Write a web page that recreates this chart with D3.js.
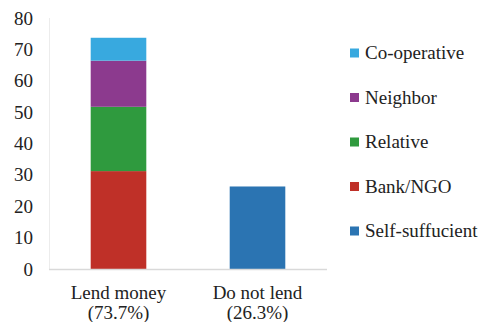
<!DOCTYPE html>
<html>
<head>
<meta charset="utf-8">
<script src="https://cdn.jsdelivr.net/npm/d3@7"></script>
</head>
<body style="margin:0">
<svg id="chart" width="482" height="322"></svg>
<script>
// Source of loans (percent of households)
const categories = ["Lend money", "Do not lend"];
const categorySubLabels = ["(73.7%)", "(26.3%)"];
const seriesNames = ["Bank/NGO", "Relative", "Neighbor", "Co-operative", "Self-suffucient"];
const bankNgo        = [31.2, 0];
const relative       = [20.5, 0];
const neighbor       = [14.7, 0];
const cooperative    = [7.3, 0];
const selfSufficient = [0, 26.3];
const yTicks = [0, 10, 20, 30, 40, 50, 60, 70, 80];

const FONT = "Liberation Serif";
const FS = 19;

const colors = {
  "Bank/NGO": "#bf3028",
  "Relative": "#2f9a3e",
  "Neighbor": "#8c3a8e",
  "Co-operative": "#38a9df",
  "Self-suffucient": "#2b74b2"
};

const table = categories.map((c, i) => ({
  category: c,
  "Bank/NGO": bankNgo[i],
  "Relative": relative[i],
  "Neighbor": neighbor[i],
  "Co-operative": cooperative[i],
  "Self-suffucient": selfSufficient[i]
}));

const svg = d3.select("#chart");
const margin = { left: 49, right: 155, top: 18, bottom: 53 };
const W = 482, H = 322;

const x = d3.scaleBand()
  .domain(categories)
  .range([margin.left, W - margin.right])
  .paddingInner(0.6)
  .paddingOuter(0.3);

const y = d3.scaleLinear()
  .domain([0, 80])
  .range([H - margin.bottom, margin.top]);

// left axis line
svg.append("line")
  .attr("x1", margin.left + 0.5).attr("x2", margin.left + 0.5)
  .attr("y1", y(80)).attr("y2", y(0))
  .attr("stroke", "#ececec").attr("stroke-width", 1);

// y tick labels
const yAxis = d3.axisLeft(y).tickValues(yTicks).tickSize(0).tickPadding(16);
const gy = svg.append("g").attr("transform", `translate(${margin.left},0)`).call(yAxis);
gy.select(".domain").remove();
gy.selectAll("text")
  .attr("font-family", FONT)
  .attr("font-size", FS)
  .attr("fill", "#222");

// stacked bars
const layers = d3.stack().keys(seriesNames)(table);

svg.append("g").selectAll("g")
  .data(layers)
  .join("g")
  .attr("fill", d => colors[d.key])
  .selectAll("rect")
  .data(d => d)
  .join("rect")
  .attr("x", d => x(d.data.category))
  .attr("width", x.bandwidth())
  .attr("y", d => y(d[1]))
  .attr("height", d => y(d[0]) - y(d[1]));

// baseline
svg.append("line")
  .attr("x1", margin.left).attr("x2", W - margin.right)
  .attr("y1", y(0) + 0.5).attr("y2", y(0) + 0.5)
  .attr("stroke", "#d9d9d9").attr("stroke-width", 1.5);

// category labels (two lines each)
const xAxis = d3.axisBottom(x).tickSize(0).tickFormat(() => "");
const gx = svg.append("g").attr("transform", `translate(0,${y(0)})`).call(xAxis);
gx.select(".domain").remove();
gx.selectAll(".tick text").remove();
gx.selectAll(".tick").each(function(d, i) {
  const tick = d3.select(this);
  tick.append("text")
    .attr("x", 0).attr("y", 30)
    .attr("text-anchor", "middle")
    .attr("font-family", FONT)
    .attr("font-size", FS)
    .attr("fill", "#222")
    .text(d);
  tick.append("text")
    .attr("x", 0).attr("y", 50)
    .attr("text-anchor", "middle")
    .attr("font-family", FONT)
    .attr("font-size", FS)
    .attr("fill", "#222")
    .text(categorySubLabels[i]);
});

// legend
const legendOrder = ["Co-operative", "Neighbor", "Relative", "Bank/NGO", "Self-suffucient"];
const legend = svg.append("g").attr("transform", "translate(350,53)");
const item = legend.selectAll("g")
  .data(legendOrder)
  .join("g")
  .attr("transform", (d, i) => `translate(0,${i * 44.5})`);
item.append("rect")
  .attr("x", 0).attr("y", -4.5)
  .attr("width", 9).attr("height", 9)
  .attr("fill", d => colors[d]);
item.append("text")
  .attr("x", 15).attr("y", 6)
  .attr("font-family", FONT)
  .attr("font-size", FS)
  .attr("fill", "#222")
  .text(d => d);
</script>
</body>
</html>
